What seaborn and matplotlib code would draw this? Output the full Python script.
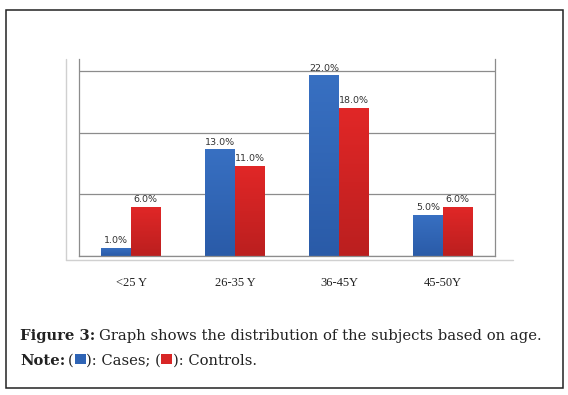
import matplotlib
matplotlib.use("Agg")
import matplotlib.pyplot as plt
import seaborn as sns
import pandas as pd
import numpy as np
from matplotlib.patches import Rectangle
from matplotlib.lines import Line2D
from matplotlib.colors import LinearSegmentedColormap

categories = ["<25 Y", "26-35 Y", "36-45Y", "45-50Y"]
cases = [1.0, 13.0, 22.0, 5.0]
controls = [6.0, 11.0, 18.0, 6.0]
groups = ["Cases", "Controls"]
colors = {"Cases": "#2f64b5", "Controls": "#d82626"}
grad = {"Cases": ("#2a5ba8", "#3870c2"), "Controls": ("#bb1f1f", "#e12727")}

df = pd.DataFrame({
    "Age": categories * 2,
    "Percent": cases + controls,
    "Group": [groups[0]] * len(categories) + [groups[1]] * len(categories),
})

sns.set_style("white")
W, H = 568, 395
fig = plt.figure(figsize=(W / 100, H / 100), dpi=100)

def fx(x):
    return x / W

def fy(y):
    return 1 - y / H

ax = fig.add_axes([fx(79), fy(256), fx(495) - fx(79), fy(59) - fy(256)])
sns.barplot(data=df, x="Age", y="Percent", hue="Group", palette=colors,
            width=0.57, gap=0, ax=ax, legend=False, saturation=1, linewidth=0)
ax.set_xlim(-0.5, 3.5)
ax.set_ylim(0, 24)
ax.set_yticks([0, 7.5, 15, 22.5])
ax.set_yticklabels([])
ax.tick_params(axis="both", length=0)
ax.yaxis.grid(True, color="#8c8c8c", linewidth=0.9)
ax.set_axisbelow(True)
ax.set_xlabel("")
ax.set_ylabel("")
for s in ["left", "right", "bottom"]:
    ax.spines[s].set_color("#8c8c8c")
    ax.spines[s].set_linewidth(0.9)
ax.spines["top"].set_visible(False)
ax.set_xticklabels(categories, fontfamily="Liberation Serif", fontsize=9, color="#222222")
ax.tick_params(axis="x", pad=15)

# vertical gradient fill on each bar
for cont, g in zip(ax.containers, groups):
    cmap = LinearSegmentedColormap.from_list(g, list(grad[g]))
    for p in cont.patches:
        x0, y0 = p.get_x(), p.get_y()
        w, h = p.get_width(), p.get_height()
        img = ax.imshow(np.linspace(0, 1, 64).reshape(-1, 1), cmap=cmap, origin="lower",
                        extent=[x0, x0 + w, y0, y0 + h], aspect="auto", zorder=p.get_zorder() + 0.1)
        img.set_clip_path(p)
ax.set_xlim(-0.5, 3.5)
ax.set_ylim(0, 24)

for cont in ax.containers:
    ax.bar_label(cont, labels=[f"{v:.1f}%" for v in cont.datavalues],
                 fontsize=6.8, color="#333333", padding=2, fontfamily="DejaVu Sans")

# outer chart frame (light gray)
fig.add_artist(Line2D([fx(66), fx(66)], [fy(59), fy(260)], color="#d0d0d0", lw=1))
fig.add_artist(Line2D([fx(66), fx(513)], [fy(260), fy(260)], color="#d0d0d0", lw=1))

# outer border
fig.add_artist(Rectangle((fx(5.5), fy(388)), fx(557), fy(10) - fy(388),
                         fill=False, edgecolor="#222222", lw=1.1))

# caption
fig.canvas.draw()
r = fig.canvas.get_renderer()
fam = "DejaVu Serif"
fs = 10.6

def put(x, y, s, weight="normal"):
    t = fig.text(fx(x), fy(y), s, fontfamily=fam, fontsize=fs, fontweight=weight,
                 color="#222222", va="baseline", ha="left")
    bb = t.get_window_extent(renderer=r)
    return x + bb.width

x = put(20, 340, "Figure 3:", "bold")
put(x + 3.5, 340, "Graph shows the distribution of the subjects based on age.")

y2 = 365
x = put(20, y2, "Note:", "bold")
x = put(x + 3, y2, "(")
fig.add_artist(Rectangle((fx(x + 0.5), fy(y2 - 1)), fx(11), fy(y2 - 11) - fy(y2 - 1),
                         facecolor=colors["Cases"], edgecolor="none"))
x = put(x + 12, y2, "): Cases; (")
fig.add_artist(Rectangle((fx(x + 0.5), fy(y2 - 1)), fx(11), fy(y2 - 11) - fy(y2 - 1),
                         facecolor=colors["Controls"], edgecolor="none"))
put(x + 12, y2, "): Controls.")

fig.savefig("out.png", dpi=100)
